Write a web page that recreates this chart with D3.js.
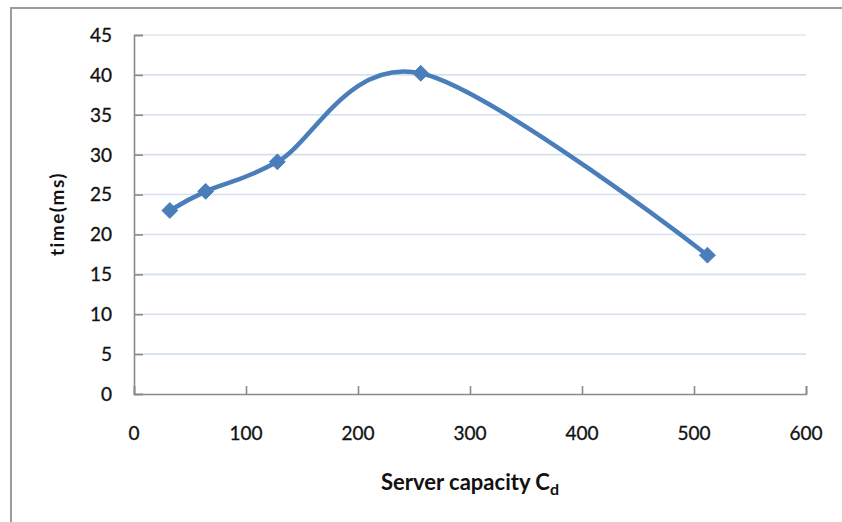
<!DOCTYPE html>
<html>
<head>
<meta charset="utf-8">
<script src="https://cdn.jsdelivr.net/npm/d3@7"></script>
<style>
  html, body { margin: 0; padding: 0; background: #fff; }
  svg { display: block; }
</style>
</head>
<body>
<svg id="chart" width="842" height="522"></svg>
<script>
// Server capacity vs. response time
const capacities = [32, 64, 128, 256, 512];
const times = [23.0, 25.4, 29.1, 40.2, 17.4];
const xTicks = [0, 100, 200, 300, 400, 500, 600];
const yTicks = [0, 5, 10, 15, 20, 25, 30, 35, 40, 45];

const svg = d3.select("#chart");
const margin = { left: 134, top: 35, right: 36, bottom: 128 };
const W = 842, H = 522;
const plotW = W - margin.left - margin.right;   // 672
const plotH = H - margin.top - margin.bottom;   // 359

const x = d3.scaleLinear().domain([0, 600]).range([margin.left, margin.left + plotW]);
const y = d3.scaleLinear().domain([0, 45]).range([margin.top + plotH, margin.top]);

const font = "Lato, 'Open Sans', sans-serif";
const axisColor = "#8a8a8a";
const textColor = "#111";

// chart frame
svg.append("rect")
  .attr("x", 11).attr("y", 8)
  .attr("width", 900).attr("height", 600)
  .attr("fill", "#fff")
  .attr("stroke", "#9c9c9c")
  .attr("stroke-width", 2);

// horizontal gridlines
svg.append("g")
  .selectAll("line")
  .data(yTicks.filter(d => d > 0))
  .join("line")
  .attr("x1", x(0)).attr("x2", x(600))
  .attr("y1", d => y(d)).attr("y2", d => y(d))
  .attr("stroke", d => d === 45 ? "#e6e6dc" : "#d6e0ef")
  .attr("stroke-width", 1.6);

// y axis
const yAxis = d3.axisLeft(y).tickValues(yTicks).tickSize(-9).tickPadding(0).tickFormat("");
const gy = svg.append("g").attr("transform", `translate(${x(0)},0)`).call(yAxis);
gy.select(".domain").attr("stroke", axisColor).attr("stroke-width", 1.6);
gy.selectAll(".tick line").attr("stroke", axisColor).attr("stroke-width", 1.6);

svg.append("g")
  .selectAll("text")
  .data(yTicks)
  .join("text")
  .attr("x", 112)
  .attr("y", d => y(d))
  .attr("dy", "0.36em")
  .attr("text-anchor", "end")
  .attr("font-family", font)
  .attr("font-size", 19)
  .attr("fill", textColor)
  .attr("stroke", textColor)
  .attr("stroke-width", 0.3)
  .text(d => d);

// x axis
const xAxis = d3.axisBottom(x).tickValues(xTicks).tickSize(-8).tickFormat("");
const gx = svg.append("g").attr("transform", `translate(0,${y(0)})`).call(xAxis);
gx.select(".domain").attr("stroke", axisColor).attr("stroke-width", 1.6);
gx.selectAll(".tick line").attr("stroke", axisColor).attr("stroke-width", 1.6);

svg.append("g")
  .selectAll("text")
  .data(xTicks)
  .join("text")
  .attr("x", d => x(d))
  .attr("y", 440)
  .attr("text-anchor", "middle")
  .attr("font-family", font)
  .attr("font-size", 19)
  .attr("fill", textColor)
  .attr("stroke", textColor)
  .attr("stroke-width", 0.3)
  .text(d => d);

// axis titles
const xt = svg.append("text")
  .attr("x", 470)
  .attr("y", 490)
  .attr("text-anchor", "middle")
  .attr("font-family", font)
  .attr("font-weight", "bold")
  .attr("font-size", 22)
  .attr("fill", textColor);
xt.append("tspan").text("Server capacity C");
xt.append("tspan").attr("font-size", 16).attr("dy", 5).text("d");

svg.append("text")
  .attr("transform", "translate(64,214) rotate(-90)")
  .attr("text-anchor", "middle")
  .attr("font-family", font)
  .attr("font-weight", "bold")
  .attr("font-size", 19)
  .attr("letter-spacing", 1.5)
  .attr("fill", textColor)
  .text("time(ms)");

// data series
const pts = capacities.map((c, i) => [c, times[i]]);
const line = d3.line()
  .x(d => x(d[0]))
  .y(d => y(d[1]))
  .curve(d3.curveCardinal.tension(0));

svg.append("path")
  .datum(pts)
  .attr("d", line)
  .attr("fill", "none")
  .attr("stroke", "#4a7ebb")
  .attr("stroke-width", 4.5)
  .attr("stroke-linejoin", "round");

svg.append("g")
  .selectAll("path")
  .data(pts)
  .join("path")
  .attr("transform", d => `translate(${x(d[0])},${y(d[1])})`)
  .attr("d", d3.symbol().type(d3.symbolDiamond2).size(160))
  .attr("fill", "#4a7ebb")
  .attr("stroke", "#4a7ebb")
  .attr("stroke-width", 1);
</script>
</body>
</html>
